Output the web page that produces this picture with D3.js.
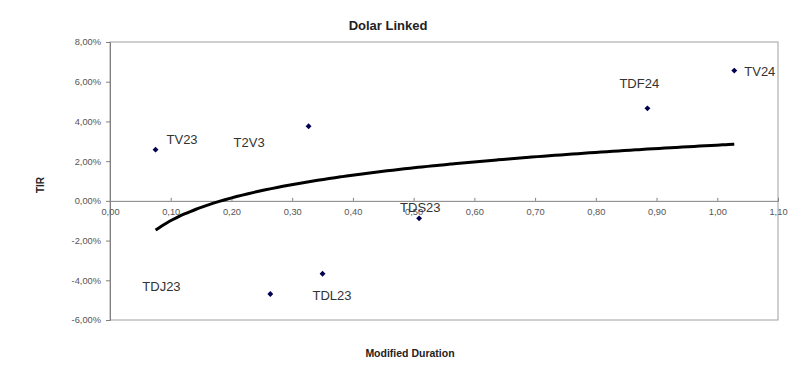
<!DOCTYPE html>
<html>
<head>
<meta charset="utf-8">
<script src="https://cdn.jsdelivr.net/npm/d3@7"></script>
<style>
  body { margin: 0; background: #fff; }
  text { font-family: "Liberation Sans", Arial, sans-serif; }
</style>
</head>
<body>
<div id="root"></div>
<script>
const width = 800
const height = 385

// data
const bonds = ['TV23', 'T2V3', 'TDJ23', 'TDL23', 'TDS23', 'TDF24', 'TV24']
const duration = [0.075, 0.327, 0.264, 0.35, 0.509, 0.885, 1.028]
const tir = [2.58, 3.76, -4.69, -3.67, -0.88, 4.66, 6.56]
const xTicks = [0, 0.1, 0.2, 0.3, 0.4, 0.5, 0.6, 0.7, 0.8, 0.9, 1.0, 1.1]
const yTicks = [-6, -4, -2, 0, 2, 4, 6, 8]

// label placement (pixels from the point), like excel left them
const labelDx = [11, -75, -128, -10, -19, -28, 10]
const labelDy = [-6, 21, -3, 26, -6, -20, 5]

const margin = { top: 42, right: 22, bottom: 65, left: 110 }

const svg = d3.select('#root').append('svg').attr('width', width).attr('height', height)

const x = d3.scaleLinear().domain([0, 1.1]).range([margin.left, width - margin.right])
const y = d3.scaleLinear().domain([-6, 8]).range([height - margin.bottom, margin.top])

const fmt = (v, d) => v.toFixed(d).replace('.', ',')

// plot frame
svg.append('rect')
  .attr('x', x(0)).attr('y', y(8))
  .attr('width', x(1.1) - x(0)).attr('height', y(-6) - y(8))
  .attr('fill', 'none').attr('stroke', '#a0a0a0').attr('stroke-width', 1)

// y axis
const yAxis = svg.append('g')
  .attr('transform', `translate(${x(0)},0)`)
  .call(d3.axisLeft(y).tickValues(yTicks).tickSize(4).tickPadding(5).tickFormat((d) => fmt(d, 2) + '%'))
yAxis.select('.domain').attr('stroke', '#808080')
yAxis.selectAll('.tick line').attr('stroke', '#808080')
yAxis.selectAll('text').attr('font-size', 9.3).attr('fill', '#555')

// x axis on the zero line
const xAxis = svg.append('g')
  .attr('transform', `translate(0,${y(0)})`)
  .call(d3.axisBottom(x).tickValues(xTicks).tickSize(-3).tickPadding(8).tickFormat((d) => fmt(d, 2)))
xAxis.select('.domain').attr('stroke', '#808080')
xAxis.selectAll('.tick line').attr('stroke', '#808080')
xAxis.selectAll('text').attr('font-size', 9.3).attr('fill', '#555')

// logarithmic trendline fitted on the points
const lx = duration.map(Math.log)
const mx = d3.mean(lx)
const my = d3.mean(tir)
const b = d3.sum(lx, (v, i) => (v - mx) * (tir[i] - my)) / d3.sum(lx, (v) => (v - mx) ** 2)
const a = my - b * mx
const [dmin, dmax] = d3.extent(duration)
const trend = d3.range(0, 101).map((i) => {
  const d = dmin + ((dmax - dmin) * i) / 100
  return [d, a + b * Math.log(d)]
})

svg.append('path')
  .datum(trend)
  .attr('fill', 'none')
  .attr('stroke', '#000')
  .attr('stroke-width', 3)
  .attr('d', d3.line().x((d) => x(d[0])).y((d) => y(d[1])).curve(d3.curveBasis))

// points
const pts = bonds.map((name, i) => ({ name, d: duration[i], t: tir[i], i }))

svg.append('g')
  .selectAll('path')
  .data(pts)
  .join('path')
  .attr('d', d3.symbol(d3.symbolDiamond2, 22))
  .attr('transform', (p) => `translate(${x(p.d)},${y(p.t)})`)
  .attr('fill', '#000050')

svg.append('g')
  .selectAll('text')
  .data(pts)
  .join('text')
  .attr('x', (p) => x(p.d) + labelDx[p.i])
  .attr('y', (p) => y(p.t) + labelDy[p.i])
  .attr('font-size', 13)
  .attr('fill', '#333')
  .text((p) => p.name)

// titles
svg.append('text')
  .attr('x', 388).attr('y', 30)
  .attr('text-anchor', 'middle')
  .attr('font-size', 13).attr('font-weight', 'bold').attr('fill', '#222')
  .text('Dolar Linked')

svg.append('text')
  .attr('x', 410).attr('y', 357)
  .attr('text-anchor', 'middle')
  .attr('font-size', 10.5).attr('font-weight', 'bold').attr('fill', '#222')
  .text('Modified Duration')

svg.append('text')
  .attr('transform', 'translate(44,185) rotate(-90)')
  .attr('text-anchor', 'middle')
  .attr('font-size', 10).attr('font-weight', 'bold').attr('fill', '#222')
  .text('TIR')
</script>
</body>
</html>
